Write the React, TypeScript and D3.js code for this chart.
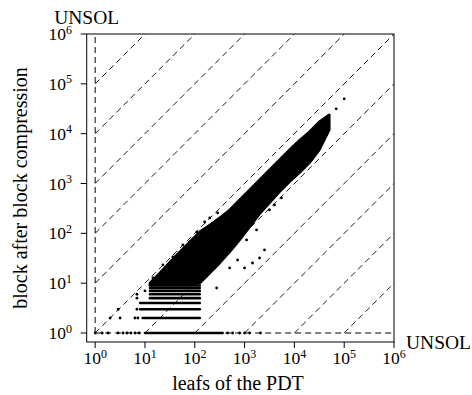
import * as d3 from "d3";
import React, { useEffect, useRef } from "react";

// dense core of the cloud: x positions with lower / upper y bound
const cloudX = [12.6, 20, 39.8, 79.4, 126, 200, 316, 501, 794, 1259, 1995, 3162, 5012, 7943, 12589, 19953, 31623, 50119];
const cloudLow = [9.2, 9.2, 9.2, 9.2, 10.1, 16, 25.4, 42.3, 73.7, 134, 245, 408, 678, 1077, 1633, 2594, 4730, 11920];
const cloudHigh = [10.1, 16, 33.6, 67.2, 107, 147, 204, 295, 468, 743, 1181, 1875, 2979, 4730, 7330, 10870, 17260, 23870];

// horizontal stripes (integer block counts), dense part
const rowY = [1, 2, 3, 4, 5, 6, 7, 8, 9];
const rowStart = [10, 9, 8, 8, 12.6, 12.6, 12.6, 12.6, 12.6];
const rowEnd = [363, 126, 126, 126, 126, 126, 126, 126, 126];

// single points
const ptX = [
  1, 1.38, 1.82, 2.88, 3.63, 4.37, 5.25, 6.31, 7.59, 457, 575, 794, 1000, 1259, 2089,
  2.0, 3.16, 6.3, 7.2,
  2.9, 6.9,
  6.9, 6.9, 10,
  14.5, 22.9, 36.3, 57.5, 79.4, 110, 158, 200, 288,
  275, 501, 724, 1000, 1445, 2512, 1096, 1738, 3162, 3981, 5495, 8710, 13800, 21880, 28840, 1995,
  69180, 100000,
];
const ptY = [
  1, 1, 1, 1, 1, 1, 1, 1, 1, 1, 1, 1, 1, 1, 1,
  2, 2, 2, 2,
  3, 3,
  5, 6, 7,
  12.7, 23.2, 33.6, 58.5, 67.2, 107, 169, 204, 257,
  8, 20.2, 29.2, 20.2, 25.4, 46.4, 73.7, 117, 295, 372, 514, 1181, 1875, 2979, 6840, 32,
  31500, 50000,
];

// ratios of the dashed reference diagonals
const diagRatio = [1e-5, 1e-4, 1e-3, 1e-2, 1e-1, 1, 10, 100, 1e3, 1e4, 1e5];
const tickVals = [1, 10, 100, 1e3, 1e4, 1e5, 1e6];
const tickExp = ["0", "1", "2", "3", "4", "5", "6"];

export default function App() {
  const ref = useRef<SVGSVGElement>(null);
  useEffect(() => {
    const svg = d3.select(ref.current);
    svg.selectAll("*").remove();
    const font = "'Liberation Serif', serif";
    const x = d3.scaleLog().domain([0.676, 1e6]).range([86.7, 394]);
    const y = d3.scaleLog().domain([0.66, 1e6]).range([342, 34]);
    const g = svg.append("g");

    // dashed guides
    const dash = "6,4";
    g.append("line")
      .attr("x1", x(1)).attr("x2", x(1)).attr("y1", y(1)).attr("y2", y(1e6))
      .attr("stroke", "#000").attr("stroke-width", 1).attr("stroke-dasharray", dash);
    g.append("line")
      .attr("x1", x(1)).attr("x2", x(1e6)).attr("y1", y(1)).attr("y2", y(1))
      .attr("stroke", "#000").attr("stroke-width", 1).attr("stroke-dasharray", dash);
    diagRatio.forEach((r) => {
      const x0 = Math.max(1, 1 / r);
      const x1 = Math.min(1e6, 1e6 / r);
      g.append("line")
        .attr("x1", x(x0)).attr("y1", y(x0 * r))
        .attr("x2", x(x1)).attr("y2", y(x1 * r))
        .attr("stroke", "#000").attr("stroke-width", 0.9).attr("stroke-dasharray", dash);
    });

    // cloud core
    const area = d3.area<number>()
      .x((_, i) => x(cloudX[i]))
      .y0((_, i) => y(cloudLow[i]))
      .y1((_, i) => y(cloudHigh[i]));
    g.append("path")
      .datum(cloudX)
      .attr("d", area as any)
      .attr("fill", "#000")
      .attr("stroke", "#000")
      .attr("stroke-width", 2.6)
      .attr("stroke-linejoin", "round");

    // stripes
    rowY.forEach((v, i) => {
      g.append("line")
        .attr("x1", x(rowStart[i])).attr("x2", x(rowEnd[i]))
        .attr("y1", y(v)).attr("y2", y(v))
        .attr("stroke", "#000").attr("stroke-width", 2.6).attr("stroke-linecap", "round");
    });

    g.selectAll("circle.pt")
      .data(ptX)
      .enter()
      .append("circle")
      .attr("class", "pt")
      .attr("cx", (d) => x(d))
      .attr("cy", (_, i) => y(ptY[i]))
      .attr("r", 1.4)
      .attr("fill", "#000");

    // frame
    svg.append("rect")
      .attr("x", 86.7).attr("y", 34).attr("width", 394 - 86.7).attr("height", 342 - 34)
      .attr("fill", "none").attr("stroke", "#000").attr("stroke-width", 1);

    // ticks
    tickVals.forEach((t, i) => {
      svg.append("line")
        .attr("x1", x(t)).attr("x2", x(t)).attr("y1", 342).attr("y2", 348)
        .attr("stroke", "#000");
      const tx = svg.append("text")
        .attr("x", x(t)).attr("y", 364)
        .attr("text-anchor", "middle")
        .attr("font-family", font).attr("font-size", 17.5);
      tx.append("tspan").text("10");
      tx.append("tspan").attr("dy", -6.5).attr("font-size", 12).text(tickExp[i]);

      svg.append("line")
        .attr("x1", 86.7).attr("x2", 80.7).attr("y1", y(t)).attr("y2", y(t))
        .attr("stroke", "#000");
      const ty = svg.append("text")
        .attr("x", 72).attr("y", y(t) + 6)
        .attr("text-anchor", "end")
        .attr("font-family", font).attr("font-size", 17.5);
      ty.append("tspan").text("10");
      ty.append("tspan").attr("dy", -6.5).attr("font-size", 12).text(tickExp[i]);
    });

    svg.append("text")
      .attr("x", 86.7).attr("y", 23.5)
      .attr("text-anchor", "middle")
      .attr("font-family", font).attr("font-size", 19.5)
      .text("UNSOL");
    svg.append("text")
      .attr("x", 406).attr("y", 348.5)
      .attr("font-family", font).attr("font-size", 19.5)
      .text("UNSOL");

    svg.append("text")
      .attr("x", 238).attr("y", 390)
      .attr("text-anchor", "middle")
      .attr("font-family", font).attr("font-size", 20)
      .text("leafs of the PDT");
    svg.append("text")
      .attr("transform", "translate(27,188) rotate(-90)")
      .attr("text-anchor", "middle")
      .attr("font-family", font).attr("font-size", 20)
      .text("block after block compression");
  }, []);

  return (
    <svg
      ref={ref}
      width={472}
      height={395}
      style={{ position: "absolute", left: 0, top: 0, background: "#fff" }}
    />
  );
}
